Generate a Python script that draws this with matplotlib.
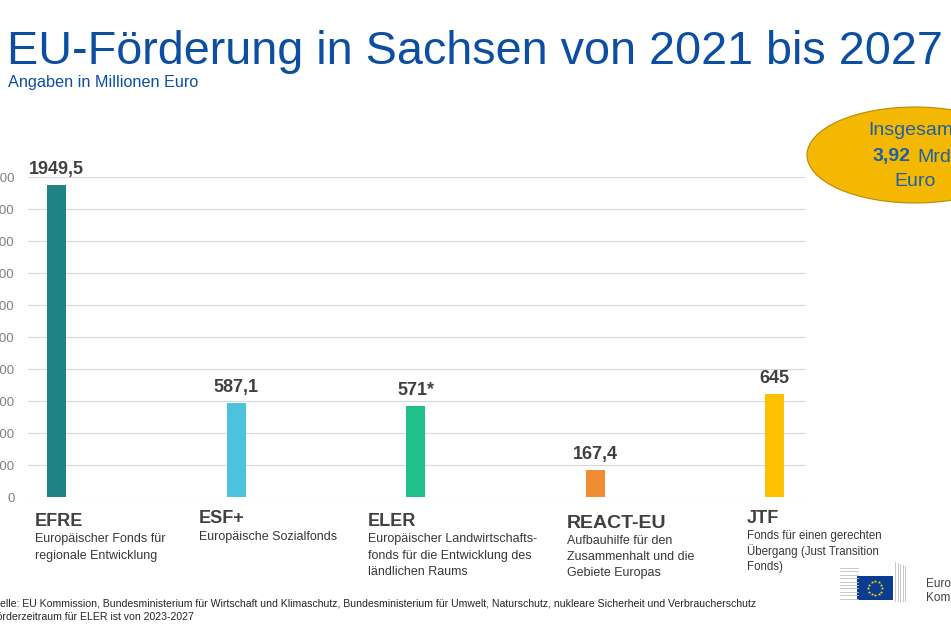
import numpy as np
import matplotlib
matplotlib.use('Agg')
import matplotlib.pyplot as plt
from matplotlib.patches import Ellipse, Rectangle

plt.rcParams['font.family'] = ['Liberation Sans', 'DejaVu Sans']

# Daten
categories = ['EFRE', 'ESF+', 'ELER', 'REACT-EU', 'JTF']
values = [1949.5, 587.1, 571, 167.4, 645]
value_labels = ['1949,5', '587,1', '571*', '167,4', '645']
descriptions = ['Europäischer Fonds für\nregionale Entwicklung',
                'Europäische Sozialfonds',
                'Europäischer Landwirtschafts-\nfonds für die Entwicklung des\nländlichen Raums',
                'Aufbauhilfe für den\nZusammenhalt und die\nGebiete Europas',
                'Fonds für einen gerechten\nÜbergang (Just Transition\nFonds)']
colors = ['#1F8385', '#4BC3DC', '#21BF8A', '#F08C33', '#FFC000']
yticks = np.arange(0, 2001, 200)

W, H = 951, 634
fig = plt.figure(figsize=(W / 100, H / 100), dpi=100)
fig.patch.set_facecolor('white')

def px(x, y):
    return x / W, 1 - y / H

blue = '#0B4EA2'
dark = '#404040'

# Titel
fig.text(*px(7, 64), 'EU-Förderung in Sachsen von 2021 bis 2027', fontsize=33.7,
         color=blue, va='baseline', ha='left')
fig.text(*px(8, 87), 'Angaben in Millionen Euro', fontsize=11.7, color=blue,
         va='baseline', ha='left')

# Diagramm
ax = fig.add_axes([28 / W, 137 / H, 778 / W, 320 / H])
x = np.arange(len(categories))
ax.bar(x, values, width=0.106, color=colors, zorder=3)
for xi, v, lab in zip(x, values, value_labels):
    ax.annotate(lab, (xi, v), xytext=(0, 5), textcoords='offset points',
                ha='center', va='bottom', fontsize=13, fontweight='bold', color=dark)
ax.set_xlim(-0.16, 4.175)
ax.set_ylim(0, 2000)
ax.set_yticks(yticks)
ax.set_yticklabels([str(t) for t in yticks])
ax.set_xticks([])
ax.tick_params(axis='y', length=0, pad=9.5, labelsize=9.5, labelcolor='#808080')
ax.grid(axis='y', color='#D9D9D9', linewidth=0.8, zorder=0)
for s in ax.spines.values():
    s.set_visible(False)
ax.set_facecolor('none')

# Kategorie-Beschriftungen
lab_x = [35, 199, 368, 567, 747]
lab_base = [526, 523, 526, 528, 523]
lab_size = [13, 13, 13, 14, 13]
desc_base = [542, 540, 542, 544, 539]
desc_step = [16.5, 16.5, 16.5, 16, 15.5]
desc_size = [9, 9, 9, 9, 8.3]
for i in range(len(categories)):
    fig.text(*px(lab_x[i], lab_base[i]), categories[i], fontsize=lab_size[i],
             fontweight='bold', color=dark, va='baseline', ha='left')
    for j, line in enumerate(descriptions[i].split('\n')):
        fig.text(*px(lab_x[i], desc_base[i] + j * desc_step[i]), line,
                 fontsize=desc_size[i], color='#383838', va='baseline', ha='left')

# Insgesamt-Oval
fig.patches.append(Ellipse(px(915, 155), 216 / W, 96 / H, transform=fig.transFigure,
                           facecolor='#F5B800', edgecolor='#B88A00', linewidth=0.8))
fig.text(*px(913, 130), 'Insgesamt', fontsize=14, color='#1F5FA8', ha='center', va='center')
fig.text(*px(910, 157), '3,92', fontsize=14, color='#1F5FA8', fontweight='bold',
         ha='right', va='center')
fig.text(*px(917, 157), 'Mrd.', fontsize=14, color='#1F5FA8', ha='left', va='center')
fig.text(*px(915, 181), 'Euro', fontsize=14, color='#1F5FA8', ha='center', va='center')

# Quelle
fig.text(*px(-13.5, 607), 'Quelle: EU Kommission, Bundesministerium für Wirtschaft und Klimaschutz, '
         'Bundesministerium für Umwelt, Naturschutz, nukleare Sicherheit und Verbraucherschutz',
         fontsize=7.55, color='#262626', va='baseline', ha='left')
fig.text(*px(-14, 620), '*Förderzeitraum für ELER ist von 2023-2027',
         fontsize=7.55, color='#262626', va='baseline', ha='left')

# EU-Logo
for k in range(10):
    yy = 568 + k * 3.4
    fig.lines.append(plt.Line2D([840 / W, 858 / W], [1 - yy / H, 1 - yy / H],
                                transform=fig.transFigure, color='#BFBFBF', linewidth=0.6))
for k in range(5):
    xx = 895 + k * 2.5
    fig.lines.append(plt.Line2D([xx / W, xx / W], [1 - (562 + k) / H, 1 - 601 / H],
                                transform=fig.transFigure, color='#BFBFBF', linewidth=0.6))
fig.patches.append(Rectangle(px(857, 600), 36 / W, 24 / H, transform=fig.transFigure,
                             facecolor='#0A3D91', edgecolor='none'))
ang = np.linspace(0, 2 * np.pi, 13)[:-1]
cx, cy = 875, 588
fig.add_artist(plt.Line2D([(cx + 7 * np.cos(a)) / W for a in ang],
                          [1 - (cy + 7 * np.sin(a)) / H for a in ang],
                          transform=fig.transFigure, linestyle='none', marker='*',
                          markersize=2.5, color='#FFD800', markeredgewidth=0))
fig.text(*px(926, 587), 'Europäische', fontsize=8.5, color='#404040', va='baseline', ha='left')
fig.text(*px(926, 601), 'Kommission', fontsize=8.5, color='#404040', va='baseline', ha='left')

fig.savefig('out.png', dpi=100)
